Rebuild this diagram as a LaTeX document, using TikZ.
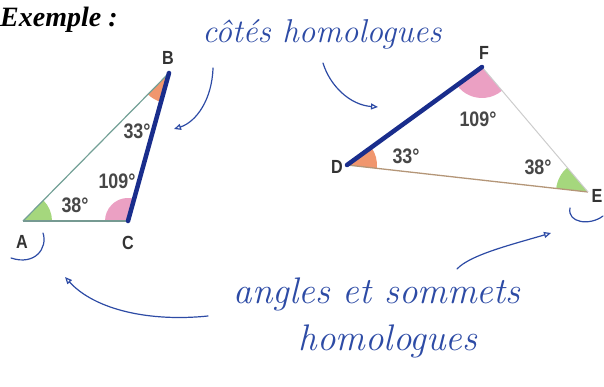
\documentclass[tikz,border=0pt]{standalone}
\usepackage{fontspec}
\usetikzlibrary{angles,arrows.meta}
\newfontfamily\exfont{Liberation Serif}
\newfontfamily\labfont[FakeStretch=0.85]{Liberation Sans}
\definecolor{ink}{RGB}{45,75,165}
\definecolor{navy}{RGB}{25,45,140}
\definecolor{angG}{RGB}{165,215,125}
\definecolor{angP}{RGB}{235,160,195}
\definecolor{angO}{RGB}{240,150,110}
\definecolor{sideT}{RGB}{115,160,150}
\definecolor{sideR}{RGB}{180,150,120}

\begin{document}
\begin{tikzpicture}[x=1pt,y=1pt,
  vtx/.style={font=\labfont\bfseries\fontsize{19}{19}\selectfont,text=black!80,inner sep=0pt},
  deg/.style={font=\labfont\bfseries\fontsize{21}{21}\selectfont,text=black!72,inner sep=0pt},
  hand/.style={font=\itshape\fontsize{33}{36}\selectfont,text=ink,inner sep=0pt},
  pen/.style={draw=ink,line width=1.2pt,line cap=round},
  penarrow/.style={pen,-{Triangle[open,length=7pt,width=6pt]}},
  homside/.style={draw=navy,line width=4.5pt,line cap=round}]
  \useasboundingbox (0,0) rectangle (604,-387);
  \node[font=\exfont\bfseries\itshape\fontsize{28}{28}\selectfont,anchor=base west,inner sep=0pt] (ex) at (0,-27) {Exemple :};
  % left triangle
  \coordinate (A) at (23,-221);
  \coordinate (C) at (128,-221);
  \coordinate (B) at (169,-73);
  \pic[fill=angG,angle radius=29pt]{angle=C--A--B};
  \pic[fill=angP,angle radius=23pt]{angle=B--C--A};
  \pic[fill=angO,angle radius=30pt]{angle=A--B--C};
  \draw[sideT,line width=1.2pt] (A)--(B);
  \draw[sideT!80!gray,line width=1.5pt] (A)--(C);
  \draw[homside] (C)--(B);
  \node[vtx] (lA) at (22,-242) {A};
  \node[vtx] (lB) at (168,-58) {B};
  \node[vtx] (lC) at (128,-243) {C};
  \node[deg] (dA) at (75,-205) {38°};
  \node[deg] (dC) at (117,-181) {109°};
  \node[deg] (dB) at (137,-131) {33°};
  % right triangle
  \coordinate (D) at (347,-165);
  \coordinate (E) at (588,-192);
  \coordinate (F) at (482,-67);
  \pic[fill=angO,angle radius=30pt]{angle=E--D--F};
  \pic[fill=angG,angle radius=32pt]{angle=F--E--D};
  \pic[fill=angP,angle radius=31pt]{angle=D--F--E};
  \draw[sideR,line width=1.3pt] (D)--(E);
  \draw[black!20,line width=1pt] (F)--(E);
  \draw[homside] (D)--(F);
  \node[vtx] (lD) at (337,-167) {D};
  \node[vtx] (lE) at (597,-196) {E};
  \node[vtx] (lF) at (484,-53) {F};
  \node[deg] (dE) at (538,-167) {38°};
  \node[deg] (dF) at (478,-119) {109°};
  \node[deg] (dD) at (406,-156) {33°};
  % handwritten notes
  \node[hand,anchor=base] (sides) at (322,-43) {côtés homologues};
  \node[hand,anchor=base,font=\itshape\fontsize{37}{40}\selectfont] (verts) at (377,-303) {angles et sommets};
  \node[hand,anchor=base,font=\itshape\fontsize{37}{40}\selectfont] (verts2) at (388,-350) {homologues};
  \coordinate (s1) at (213,-68);
  \coordinate (s2) at (323,-63);
  \coordinate (v1) at (208,-316);
  \coordinate (v2) at (457,-269);
  \draw[penarrow] (s1) .. controls (212,-100) and (196,-122) .. (174,-129);
  \draw[penarrow] (s2) .. controls (330,-86) and (350,-105) .. (378,-107);
  \draw[penarrow] (v1) .. controls (150,-322) and (95,-310) .. (65,-277);
  \draw[penarrow] (v2) .. controls (470,-255) and (510,-245) .. (551,-233);
  \draw[pen] (43,-233) .. controls (48,-248) and (35,-266) .. (11,-258);
  \draw[pen] (570,-208) .. controls (567,-223) and (590,-226) .. (603,-216);
\end{tikzpicture}
\end{document}
